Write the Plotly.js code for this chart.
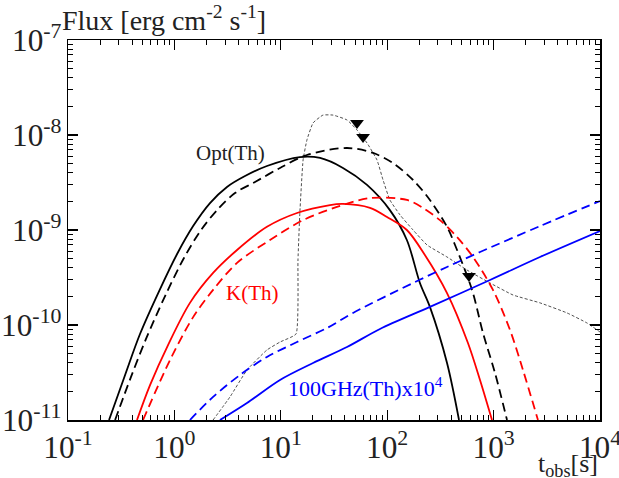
<!DOCTYPE html>
<html>
<head>
<meta charset="utf-8">
<script src="https://cdn.plot.ly/plotly-3.0.1.min.js"></script>
<style>html,body{margin:0;padding:0;background:#fff;}#chart{width:619px;height:478px;}</style>
</head>
<body>
<div id="chart"></div>
<script>
// Opt(Th) solid
var optSolidT = [0.243, 0.344, 0.475, 0.733, 1.06, 1.50, 2.16, 3.12, 4.61, 7.41, 15.1, 23.4, 38.4, 64.6, 106, 153, 203, 252, 365, 473];
var optSolidF = [1e-11, 2.98e-11, 8.04e-11, 2.39e-10, 5.59e-10, 1.10e-9, 1.92e-9, 2.84e-9, 3.70e-9, 4.72e-9, 5.86e-9, 5.73e-9, 4.50e-9, 2.98e-9, 1.62e-9, 7.85e-10, 2.77e-10, 1.55e-10, 3.98e-11, 1e-11];
// Opt(Th) dashed
var optDashT = [0.277, 0.391, 0.541, 0.834, 1.23, 1.78, 2.57, 3.71, 5.72, 9.83, 17.6, 41.9, 73.6, 113, 175, 252, 365, 434, 627, 795, 1030, 1337];
var optDashF = [1e-11, 2.84e-11, 7.13e-11, 2.12e-10, 5.07e-10, 1.0e-9, 1.66e-9, 2.45e-9, 3.20e-9, 4.50e-9, 6.16e-9, 7.30e-9, 6.47e-9, 5.07e-9, 3.36e-9, 2.07e-9, 1.08e-9, 6.95e-10, 2.34e-10, 8.24e-11, 3.13e-11, 1e-11];
// K(Th) solid
var kSolidT = [0.445, 0.590, 0.871, 1.40, 2.31, 3.88, 7.41, 14.2, 29.0, 38.4, 68.9, 99.6, 153, 226, 365, 574, 745, 966];
var kSolidF = [1e-11, 2.33e-11, 6.15e-11, 1.71e-10, 3.53e-10, 6.16e-10, 1.08e-9, 1.51e-9, 1.83e-9, 1.88e-9, 1.71e-9, 1.37e-9, 1.0e-9, 5.46e-10, 2.17e-10, 6.47e-11, 2.64e-11, 1e-11];
// K(Th) dashed
var kDashT = [0.507, 0.910, 1.50, 2.31, 3.88, 7.91, 16.2, 33.7, 68.9, 153, 217, 313, 453, 640, 986, 1426, 1888, 2612];
var kDashF = [1e-11, 4.28e-11, 1.21e-10, 2.34e-10, 4.50e-10, 7.85e-10, 1.27e-9, 1.75e-9, 2.17e-9, 2.07e-9, 1.71e-9, 1.27e-9, 8.44e-10, 5.2e-10, 2.34e-10, 8.86e-11, 3.36e-11, 1e-11];
// 100GHz(Th) x 1e4 solid
var radSolidT = [2.68, 4.81, 9.83, 20.1, 41.9, 85.5, 252, 925, 2729, 10000];
var radSolidF = [1e-11, 1.51e-11, 2.64e-11, 3.98e-11, 5.86e-11, 9.08e-11, 1.55e-10, 2.98e-10, 5.2e-10, 9.76e-10];
// 100GHz(Th) x 1e4 dashed
var radDashT = [1.40, 2.31, 4.14, 7.41, 14.2, 27.2, 47.7, 175, 365, 745, 2729, 10000];
var radDashF = [1e-11, 1.75e-11, 2.98e-11, 4.61e-11, 6.62e-11, 9.30e-11, 1.34e-10, 2.77e-10, 4.08e-10, 5.86e-10, 1.10e-9, 2.02e-9];
// thin dotted curve
var dotT = [2.31, 3.33, 4.81, 7.41, 9.83, 13.9, 14.5, 15.1, 16.2, 17.6, 20.1, 24.9, 31.0, 41.9, 52.0, 64.6, 80.2, 91.4, 106, 132, 175, 237, 365, 562, 925, 1521, 2729, 4898, 7551, 10000];
var dotF = [1e-11, 1.75e-11, 3.36e-11, 5.46e-11, 6.62e-11, 8.04e-11, 4.83e-10, 1.51e-9, 5.46e-9, 8.86e-9, 1.34e-8, 1.62e-8, 1.62e-8, 1.44e-8, 1.13e-8, 8.24e-9, 5.46e-9, 3.36e-9, 2.07e-9, 1.44e-9, 1.0e-9, 6.95e-10, 5.2e-10, 3.79e-10, 2.77e-10, 2.07e-10, 1.71e-10, 1.34e-10, 1.05e-10, 8.44e-11];
// upper-limit triangles
var limT = [52.0, 59.3, 587];
var limF = [1.34e-8, 9.53e-9, 3.28e-10];
// axis decades
var xDecades = [-1, 0, 1, 2, 3, 4];
var yDecades = [-11, -10, -9, -8, -7];

var FONT = '"Liberation Serif", "Times New Roman", serif';
function tr(x, y, color, dash, width, smooth) {
  return {x: x, y: y, type: 'scatter', mode: 'lines', hoverinfo: 'skip',
    line: {color: color, dash: dash, width: width, shape: 'spline', smoothing: smooth}};
}
var data = [
  tr(dotT, dotF, '#222', '3px,2px', 0.8, 0.4),
  tr(optSolidT, optSolidF, '#000', 'solid', 1.8, 0.9),
  tr(optDashT, optDashF, '#000', '9px,5px', 1.8, 0.9),
  tr(kSolidT, kSolidF, '#ff0000', 'solid', 1.8, 0.9),
  tr(kDashT, kDashF, '#ff0000', '9px,5px', 1.8, 0.9),
  tr(radSolidT, radSolidF, '#0000ff', 'solid', 1.8, 0.9),
  tr(radDashT, radDashF, '#0000ff', '9px,5px', 1.8, 0.9),
  {x: limT, y: limF, type: 'scatter', mode: 'markers', hoverinfo: 'skip',
   marker: {symbol: 'triangle-down', size: 12, color: '#000'}}
];

// map Plotly's default log labels onto "10^n" with a plain hyphen
function aliases(dec) {
  var a = {};
  dec.forEach(function (e) {
    var want = '10<sup>' + e + '</sup>';
    if (e === 0) a['1'] = want;
    if (e === 1) a['10'] = want;
    if (e < 0) a['10<sup>\u2212' + (-e) + '</sup>'] = want;
  });
  return a;
}
function axis(dec) {
  return {
    type: 'log', range: [dec[0], dec[dec.length - 1]], dtick: 1,
    exponentformat: 'power', labelalias: aliases(dec), ticklabeloverflow: 'allow',
    showgrid: false, zeroline: false,
    showline: true, linecolor: '#000', linewidth: 1.5, mirror: 'allticks',
    ticks: 'inside', ticklen: 10, tickwidth: 1.2, tickcolor: '#000',
    tickfont: {family: FONT, size: 25, color: '#222'},
    minor: {ticks: 'inside', ticklen: 5, tickwidth: 1, tickcolor: '#000', showgrid: false},
    title: {text: ''}
  };
}
function label(text, x, y, size, color) {
  return {text: text, xref: 'paper', yref: 'paper', x: x, y: y, xanchor: 'center', yanchor: 'middle',
          showarrow: false, font: {family: FONT, size: size, color: color}};
}
var layout = {
  width: 619, height: 478,
  margin: {l: 68, r: 19, t: 40, b: 58},
  paper_bgcolor: '#fff', plot_bgcolor: '#fff',
  showlegend: false,
  title: {text: 'Flux [erg cm<sup>-2</sup> s<sup>-1</sup>]', font: {family: FONT, size: 28, color: '#222'},
          x: 62/619, xanchor: 'left', xref: 'container', y: 1 - 20/478, yanchor: 'middle', yref: 'container'},
  xaxis: axis(xDecades),
  yaxis: axis(yDecades),
  annotations: [
    label('Opt(Th)', 0.305, 0.703, 21, '#222'),
    label('K(Th)', 0.346, 0.334, 21, '#ff0000'),
    label('100GHz(Th)x10<sup>4</sup>', 0.560, 0.087, 22, '#0000ff'),
    {text: 't<sub>obs</sub>[s]', xref: 'paper', yref: 'paper', x: 1.0, xanchor: 'right', y: -0.118, yanchor: 'middle',
     showarrow: false, font: {family: FONT, size: 26, color: '#222'}}
  ]
};
Plotly.newPlot('chart', data, layout, {staticPlot: true, displayModeBar: false});
</script>
</body>
</html>
